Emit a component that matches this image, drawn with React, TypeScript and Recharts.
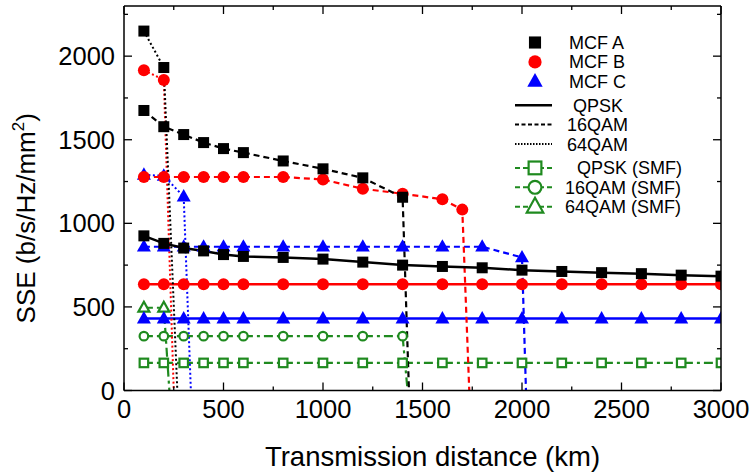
import React from 'react';
import { LineChart, Line, XAxis, YAxis, Legend } from 'recharts';

const FONT = '"Liberation Sans", Arial, Helvetica, sans-serif';
const BLACK = '#000000';
const RED = '#ff0000';
const BLUE = '#0000ff';
const GREEN = '#1f8a1f';

const DASHED = '6 4';
const DOTTED = '2 2.5';
const DASHDOT = '9 4 3 4';

// chart geometry
const W = 753;
const H = 474;
const MARGIN = { top: 6, right: 32, left: 123, bottom: 82.5 };
const PLOT_LEFT = MARGIN.left + 1;
const PLOT_RIGHT = W - MARGIN.right;
const PLOT_TOP = MARGIN.top;
const PLOT_BOTTOM = H - MARGIN.bottom - 1;

const X_MAX = 3000;
const Y_MAX = 2300;

// axis ticks (majors get a label)
const xTicks = [0, 250, 500, 750, 1000, 1250, 1500, 1750, 2000, 2250, 2500, 2750, 3000];
const yTicks = [0, 250, 500, 750, 1000, 1250, 1500, 1750, 2000, 2250];

// transmission distances (km)
const distFull = [100, 200, 300, 400, 500, 600, 800, 1000, 1200, 1400, 1600, 1800, 2000, 2200, 2400, 2600, 2800, 3000];
const dist64 = [100, 200];
const distC64 = [100, 200, 300];
const distA16 = [100, 200, 300, 400, 500, 600, 800, 1000, 1200, 1400];
const distB16 = [100, 200, 300, 400, 500, 600, 800, 1000, 1200, 1400, 1600, 1700];
const distC16 = [100, 200, 300, 400, 500, 600, 800, 1000, 1200, 1400, 1600, 1800, 2000];

// SSE values (b/s/Hz/mm2)
const mcfAQpsk = [925, 880, 852, 835, 813, 802, 796, 786, 768, 750, 742, 734, 720, 712, 705, 699, 690, 684];
const mcfA16 = [1675, 1578, 1531, 1483, 1447, 1423, 1373, 1326, 1272, 1156];
const mcfA64 = [2150, 1932];
const mcfBQpsk = [636, 636, 636, 636, 636, 636, 636, 636, 636, 636, 636, 636, 636, 636, 636, 636, 636, 636];
const mcfB16 = [1277, 1277, 1277, 1277, 1277, 1277, 1277, 1262, 1207, 1177, 1144, 1082];
const mcfB64 = [1916, 1858];
const mcfCQpsk = [430, 430, 430, 430, 430, 430, 430, 430, 430, 430, 430, 430, 430, 430, 430, 430, 430, 430];
const mcfC16 = [860, 860, 860, 860, 860, 860, 860, 860, 860, 860, 860, 860, 796];
const mcfC64 = [1290, 1284, 1160];
const smfQpsk = [165, 165, 165, 165, 165, 165, 165, 165, 165, 165, 165, 165, 165, 165, 165, 165, 165, 165];
const smf16 = [325, 325, 325, 325, 325, 325, 325, 325, 325, 325];
const smf64 = [495, 495];

// distance where each curve falls to zero
const cutA16 = 1432;
const cutA64 = 268;
const cutB16 = 1735;
const cutB64 = 250;
const cutC16 = 2020;
const cutC64 = 336;
const cutSmf16 = 1425;
const cutSmf64 = 228;

type Pt = { x: number; y: number; end?: boolean };
const toPoints = (xs: number[], ys: number[], cut?: number): Pt[] => {
  const pts: Pt[] = xs.map((x, i) => ({ x, y: ys[i] }));
  if (cut !== undefined) pts.push({ x: cut, y: 0, end: true });
  return pts;
};

type Shape = 'square' | 'circle' | 'triangle';
interface Series {
  name: string;
  data: Pt[];
  color: string;
  dash?: string;
  width: number;
  shape: Shape;
  filled: boolean;
}

const series: Series[] = [
  { name: 'smfQpsk', data: toPoints(distFull, smfQpsk), color: GREEN, dash: DASHDOT, width: 2.2, shape: 'square', filled: false },
  { name: 'smf16', data: toPoints(distA16, smf16, cutSmf16), color: GREEN, dash: DASHDOT, width: 2.2, shape: 'circle', filled: false },
  { name: 'smf64', data: toPoints(dist64, smf64, cutSmf64), color: GREEN, dash: DASHDOT, width: 2.2, shape: 'triangle', filled: false },
  { name: 'cQpsk', data: toPoints(distFull, mcfCQpsk), color: BLUE, width: 2.5, shape: 'triangle', filled: true },
  { name: 'c16', data: toPoints(distC16, mcfC16, cutC16), color: BLUE, dash: DASHED, width: 2.2, shape: 'triangle', filled: true },
  { name: 'c64', data: toPoints(distC64, mcfC64, cutC64), color: BLUE, dash: DOTTED, width: 2, shape: 'triangle', filled: true },
  { name: 'bQpsk', data: toPoints(distFull, mcfBQpsk), color: RED, width: 2.5, shape: 'circle', filled: true },
  { name: 'b16', data: toPoints(distB16, mcfB16, cutB16), color: RED, dash: DASHED, width: 2.2, shape: 'circle', filled: true },
  { name: 'b64', data: toPoints(dist64, mcfB64, cutB64), color: RED, dash: DOTTED, width: 2, shape: 'circle', filled: true },
  { name: 'aQpsk', data: toPoints(distFull, mcfAQpsk), color: BLACK, width: 2.5, shape: 'square', filled: true },
  { name: 'a16', data: toPoints(distA16, mcfA16, cutA16), color: BLACK, dash: DASHED, width: 2.2, shape: 'square', filled: true },
  { name: 'a64', data: toPoints(dist64, mcfA64, cutA64), color: BLACK, dash: DOTTED, width: 2, shape: 'square', filled: true },
];

const Marker = ({ cx, cy, shape, color, filled, scale = 1 }: { cx: number; cy: number; shape: Shape; color: string; filled: boolean; scale?: number }) => {
  const fill = filled ? color : '#fff';
  const sw = filled ? 0 : 2.2;
  if (shape === 'square') {
    const s = (filled ? 11 : 8.5) * scale;
    return <rect x={cx - s / 2} y={cy - s / 2} width={s} height={s} fill={fill} stroke={color} strokeWidth={sw} />;
  }
  if (shape === 'circle') {
    return <circle cx={cx} cy={cy} r={(filled ? 6 : 4.3) * scale} fill={fill} stroke={color} strokeWidth={sw} />;
  }
  const w = (filled ? 7 : 5.5) * scale;
  const h = (filled ? 7.5 : 6) * scale;
  return (
    <polygon
      points={`${cx},${cy - h} ${cx - w},${cy + h * 0.65} ${cx + w},${cy + h * 0.65}`}
      fill={fill}
      stroke={color}
      strokeWidth={sw}
      strokeLinejoin="miter"
    />
  );
};

const tickLen = (v: number) => (v % 500 === 0 ? 8 : 4);

// bottom axis: labels on majors
const BottomTick = (props: any) => {
  const { x, y, payload } = props;
  if (payload.value % 500 !== 0) return <g />;
  return (
    <text x={x} y={y + 27.5} textAnchor="middle" fontSize={25.5} fontFamily={FONT} fill="#000">
      {payload.value}
    </text>
  );
};

const LeftTick = (props: any) => {
  const { x, y, payload } = props;
  if (payload.value % 500 !== 0) return <g />;
  return (
    <text x={x - 9} y={y + 9} textAnchor="end" fontSize={25.5} fontFamily={FONT} fill="#000">
      {payload.value}
    </text>
  );
};

const XTitle = (props: any) => {
  const vb = props.viewBox;
  return (
    <text x={vb.x + vb.width / 2 + 10} y={vb.y + 75.5} textAnchor="middle" fontSize={27.5} fontFamily={FONT} fill="#000">
      Transmission distance (km)
    </text>
  );
};

const YTitle = (props: any) => {
  const vb = props.viewBox;
  const cx = vb.x + vb.width - 89;
  const cy = vb.y + vb.height / 2 + 20;
  return (
    <text x={cx} y={cy} transform={`rotate(-90 ${cx} ${cy})`} textAnchor="middle" fontSize={26} fontFamily={FONT} fill="#000">
      SSE (b/s/Hz/mm
      <tspan dy={-11} fontSize={17}>2</tspan>
      <tspan dy={11}>)</tspan>
    </text>
  );
};

// frame overlay: top/right borders and inward ticks on all four sides
const FrameOverlay = () => {
  const xPos = (t: number) => PLOT_LEFT + (t / X_MAX) * (PLOT_RIGHT - PLOT_LEFT);
  const yPos = (t: number) => PLOT_BOTTOM - (t / Y_MAX) * (PLOT_BOTTOM - PLOT_TOP);
  return (
    <svg width={W} height={H} style={{ position: 'absolute', left: 0, top: 0, pointerEvents: 'none' }}>
      <line x1={PLOT_LEFT} x2={PLOT_RIGHT} y1={PLOT_TOP} y2={PLOT_TOP} stroke="#000" strokeWidth={1.5} />
      <line x1={PLOT_RIGHT} x2={PLOT_RIGHT} y1={PLOT_TOP} y2={PLOT_BOTTOM} stroke="#000" strokeWidth={1.5} />
      {xTicks.map((t) => (
        <g key={`x${t}`}>
          <line x1={xPos(t)} x2={xPos(t)} y1={PLOT_BOTTOM} y2={PLOT_BOTTOM - tickLen(t)} stroke="#000" strokeWidth={1.3} />
          <line x1={xPos(t)} x2={xPos(t)} y1={PLOT_TOP} y2={PLOT_TOP + tickLen(t)} stroke="#000" strokeWidth={1.3} />
        </g>
      ))}
      {yTicks.map((t) => (
        <g key={`y${t}`}>
          <line x1={PLOT_LEFT} x2={PLOT_LEFT + tickLen(t)} y1={yPos(t)} y2={yPos(t)} stroke="#000" strokeWidth={1.3} />
          <line x1={PLOT_RIGHT} x2={PLOT_RIGHT - tickLen(t)} y1={yPos(t)} y2={yPos(t)} stroke="#000" strokeWidth={1.3} />
        </g>
      ))}
    </svg>
  );
};

// legend rows: symbol kind + text
const legendRows = [
  { label: 'MCF A', color: BLACK, shape: 'square' as Shape, filled: true, dash: null as string | null, indent: 2 },
  { label: 'MCF B', color: RED, shape: 'circle' as Shape, filled: true, dash: null, indent: 2 },
  { label: 'MCF C', color: BLUE, shape: 'triangle' as Shape, filled: true, dash: null, indent: 2 },
  { label: 'QPSK', color: BLACK, shape: null, filled: true, dash: '', indent: 6 },
  { label: '16QAM', color: BLACK, shape: null, filled: true, dash: '4 2.5', indent: 0 },
  { label: '64QAM', color: BLACK, shape: null, filled: true, dash: '1.5 1.5', indent: 0 },
  { label: 'QPSK (SMF)', color: GREEN, shape: 'square' as Shape, filled: false, dash: '5 3', indent: 10 },
  { label: '16QAM (SMF)', color: GREEN, shape: 'circle' as Shape, filled: false, dash: '5 3', indent: -2 },
  { label: '64QAM (SMF)', color: GREEN, shape: 'triangle' as Shape, filled: false, dash: '5 3', indent: -2 },
];

const LegendBox = () => (
  <svg width={240} height={200} style={{ overflow: 'visible' }}>
    {legendRows.map((r, i) => {
      const y = 22.5 + i * 19.4 + Math.floor(i / 3) * 4.5;
      return (
        <g key={r.label}>
          {r.dash !== null && (
            <line
              x1={15}
              x2={52}
              y1={y}
              y2={y}
              stroke={r.color}
              strokeWidth={r.dash === '' ? 2.5 : 2}
              strokeDasharray={r.dash || undefined}
            />
          )}
          {r.shape && <Marker cx={35} cy={y} shape={r.shape} color={r.color} filled={r.filled} scale={r.filled ? 1.1 : 1.5} />}
          <text x={67 + r.indent} y={y + 6.5} fontSize={18} fontFamily={FONT} fill="#000">
            {r.label}
          </text>
        </g>
      );
    })}
  </svg>
);

const axisLine = { stroke: '#000', strokeWidth: 1.5 };

export default function App() {
  return (
    <div style={{ position: 'absolute', left: 0, top: 0, width: W, height: H, background: '#fff' }}>
      <LineChart width={W} height={H} margin={MARGIN}>
        <XAxis
          dataKey="x"
          type="number"
          domain={[0, X_MAX]}
          ticks={xTicks}
          interval={0}
          height={1}
          tickSize={0}
          tickMargin={0}
          tickLine={false}
          axisLine={axisLine}
          tick={<BottomTick />}
          label={XTitle}
          allowDataOverflow
        />
        <YAxis
          type="number"
          domain={[0, Y_MAX]}
          ticks={yTicks}
          interval={0}
          width={1}
          tickSize={0}
          tickMargin={0}
          tickLine={false}
          axisLine={axisLine}
          tick={<LeftTick />}
          label={YTitle}
          allowDataOverflow
        />
        <Legend
          layout="vertical"
          align="center"
          verticalAlign="middle"
          content={() => <LegendBox />}
          wrapperStyle={{ left: 500, top: 20, width: 240 }}
        />
        {series.map((s) => (
          <Line
            key={s.name}
            data={s.data}
            dataKey="y"
            type="linear"
            stroke={s.color}
            strokeWidth={s.width}
            strokeDasharray={s.dash}
            isAnimationActive={false}
            legendType="none"
            activeDot={false}
            dot={(p: any) =>
              p.payload.end ? (
                <g key={`${s.name}-${p.index}`} />
              ) : (
                <g key={`${s.name}-${p.index}`}>
                  <Marker cx={p.cx} cy={p.cy} shape={s.shape} color={s.color} filled={s.filled} />
                </g>
              )
            }
          />
        ))}
      </LineChart>
      <FrameOverlay />
    </div>
  );
}
